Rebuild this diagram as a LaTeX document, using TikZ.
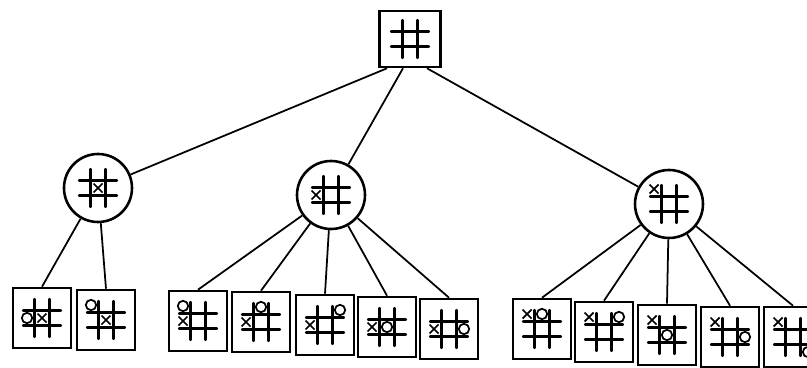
\documentclass[tikz,border=0pt]{standalone}
\usetikzlibrary{positioning}

\newcommand{\grid}[1]{%
  \begin{scope}[shift={(#1.center)}]
    \foreach \t in {-7.5,7.5} {
      \draw[gridline] (-19,\t) -- (19,\t);
      \draw[gridline] (\t,-19) -- (\t,19);
    }
  \end{scope}}
\newcommand{\xat}[3]{%
  \begin{scope}[shift={(#1.center)}]
    \draw[xsign] (#2*15-4.5,#3*15-4.5) -- (#2*15+4.5,#3*15+4.5)
                 (#2*15-4.5,#3*15+4.5) -- (#2*15+4.5,#3*15-4.5);
  \end{scope}}
\newcommand{\oat}[3]{%
  \begin{scope}[shift={(#1.center)}]
    \draw[osign] (#2*15,#3*15) circle (5.2);
  \end{scope}}

\begin{document}
\begin{tikzpicture}[x=0.03cm, y=-0.03cm,
  gridline/.style={line width=1.8pt, line cap=round},
  xsign/.style={line width=1.5pt},
  osign/.style={line width=1.5pt},
  sqbox/.style={draw, line width=2.2pt, rectangle, minimum width=1.74cm, minimum height=1.8cm, inner sep=0pt},
  rootbox/.style={draw, line width=2.2pt, rectangle, minimum width=1.83cm, minimum height=1.68cm, inner sep=0pt},
  movebox/.style={draw, line width=2.2pt, circle, minimum size=2.04cm, inner sep=0pt},
  edge/.style={line width=1.5pt},
]
\clip (0,0) rectangle (807,368);

\node[rootbox] (root) at (410,39) {};
\node[movebox] (c1) at (98,188) {};
\node[movebox] (c2) at (331,195) {};
\node[movebox] (c3) at (669,204) {};

\node[sqbox] (b1) at (42,318) {};
\node[sqbox] (b2) at (106,320) {};
\node[sqbox] (b3) at (198,321) {};
\node[sqbox] (b4) at (261,322) {};
\node[sqbox] (b5) at (325,325) {};
\node[sqbox] (b6) at (387,327) {};
\node[sqbox] (b7) at (449,329) {};
\node[sqbox] (b8) at (542,329) {};
\node[sqbox] (b9) at (604,332) {};
\node[sqbox] (b10) at (667,335) {};
\node[sqbox] (b11) at (730,337) {};
\node[sqbox] (b12) at (793,337) {};

\draw[edge] ([xshift=-0.69cm]root.south) -- (c1);
\draw[edge] ([xshift=-0.21cm]root.south) -- (c2);
\draw[edge] ([xshift=0.51cm]root.south) -- (c3);
\foreach \b in {b1,b2} \draw[edge] (c1) -- (\b.north);
\foreach \b in {b3,b4,b5,b6,b7} \draw[edge] (c2) -- (\b.north);
\foreach \b in {b8,b9,b10,b11,b12} \draw[edge] (c3) -- (\b.north);

\foreach \n in {root,c1,c2,c3,b1,b2,b3,b4,b5,b6,b7,b8,b9,b10,b11,b12} \grid{\n};

\xat{c1}{0}{0}
\xat{c2}{-1}{0}
\xat{c3}{-1}{-1}

\xat{b1}{0}{0}  \oat{b1}{-1}{0}
\xat{b2}{0}{0}  \oat{b2}{-1}{-1}

\xat{b3}{-1}{0} \oat{b3}{-1}{-1}
\xat{b4}{-1}{0} \oat{b4}{0}{-1}
\xat{b5}{-1}{0} \oat{b5}{1}{-1}
\xat{b6}{-1}{0} \oat{b6}{0}{0}
\xat{b7}{-1}{0} \oat{b7}{1}{0}

\xat{b8}{-1}{-1}  \oat{b8}{0}{-1}
\xat{b9}{-1}{-1}  \oat{b9}{1}{-1}
\xat{b10}{-1}{-1} \oat{b10}{0}{0}
\xat{b11}{-1}{-1} \oat{b11}{1}{0}
\xat{b12}{-1}{-1} \oat{b12}{1}{1}
\end{tikzpicture}
\end{document}
